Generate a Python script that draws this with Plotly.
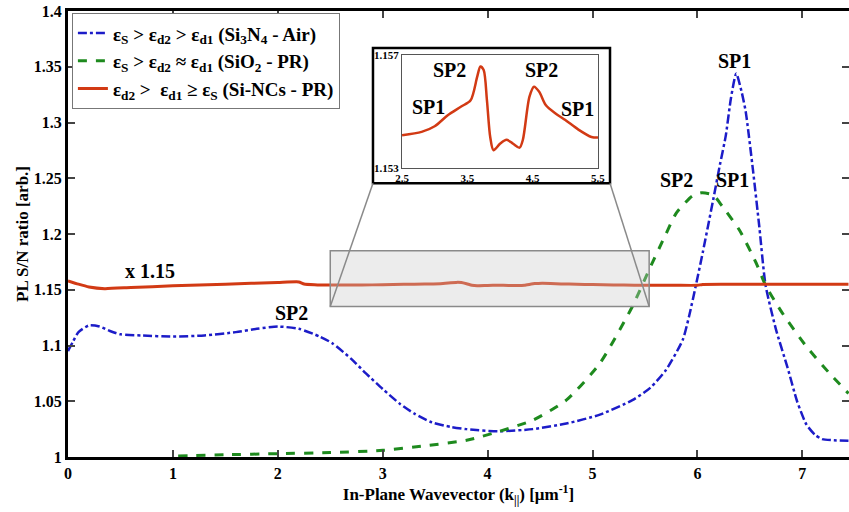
import plotly.graph_objects as go

# ---------------- data ----------------
blue_k = [0.0, 0.05, 0.1, 0.2, 0.3, 0.4, 0.5, 0.7, 1.0, 1.3, 1.6, 1.8, 2.0, 2.2, 2.4, 2.52, 2.7,
          2.84, 3.0, 3.16, 3.3, 3.47, 3.65, 3.8, 4.1, 4.43, 4.75, 5.07, 5.38, 5.55, 5.70, 5.86,
          5.92, 5.99, 6.05, 6.15, 6.21, 6.27, 6.32, 6.37, 6.42, 6.46, 6.53, 6.59, 6.65, 6.75,
          6.86, 6.95, 7.04, 7.12, 7.19, 7.3, 7.44]
blue_v = [1.095, 1.104, 1.112, 1.118, 1.117, 1.113, 1.110, 1.109, 1.108, 1.109, 1.112, 1.115,
          1.117, 1.115, 1.108, 1.102, 1.088, 1.075, 1.061, 1.048, 1.039, 1.031, 1.027, 1.025,
          1.023, 1.025, 1.030, 1.038, 1.051, 1.062, 1.078, 1.105, 1.126, 1.156, 1.183, 1.2305,
          1.26, 1.288, 1.322, 1.344, 1.328, 1.31, 1.257, 1.2065, 1.154, 1.114, 1.080, 1.050,
          1.029, 1.020, 1.016, 1.015, 1.0145]

green_k = [1.05, 1.5, 2.0, 2.5, 3.0, 3.4, 3.8, 4.11, 4.43, 4.75, 5.07, 5.38, 5.54, 5.70, 5.80,
           5.95, 6.04, 6.15, 6.24, 6.40, 6.56, 6.65, 6.81, 7.04, 7.26, 7.44]
green_v = [1.001, 1.002, 1.003, 1.004, 1.006, 1.010, 1.015, 1.023, 1.033, 1.051, 1.084, 1.135,
           1.168, 1.200, 1.219, 1.234, 1.237, 1.235, 1.2245, 1.2036, 1.174, 1.154, 1.129, 1.099,
           1.075, 1.057]

red_k = [0.0, 0.1, 0.2, 0.35, 0.6, 1.0, 1.5, 2.0, 2.2, 2.25, 2.35, 2.5, 2.8, 3.0, 3.2, 3.4, 3.55,
         3.65, 3.7, 3.75, 3.8, 3.85, 3.9, 4.0, 4.1, 4.2, 4.3, 4.35, 4.45, 4.52, 4.6, 4.7, 4.85,
         5.0, 5.2, 5.4, 5.5, 5.8, 6.0, 6.05, 6.5, 7.0, 7.44]
red_v = [1.158, 1.155, 1.1525, 1.151, 1.152, 1.1535, 1.155, 1.1565, 1.157, 1.1552, 1.1545,
         1.15416, 1.15428, 1.15448, 1.15487, 1.15517, 1.1554, 1.15623, 1.1566, 1.15647, 1.1554,
         1.1541, 1.15363, 1.15386, 1.1540, 1.15386, 1.15372, 1.1540, 1.15552, 1.15588, 1.1557,
         1.15523, 1.15493, 1.1547, 1.15436, 1.1541, 1.15408, 1.1540, 1.1540, 1.1548, 1.1549,
         1.1549, 1.1549]

legend_names = [
    "ε<sub>S</sub> > ε<sub>d2</sub> > ε<sub>d1</sub> (Si<sub>3</sub>N<sub>4</sub> - Air)",
    "ε<sub>S</sub> > ε<sub>d2</sub> ≈ ε<sub>d1</sub> (SiO<sub>2</sub> - PR)",
    "ε<sub>d2</sub> >  ε<sub>d1</sub> ≥ ε<sub>S</sub> (Si-NCs - PR)",
]

y_ticks = [1.0, 1.05, 1.1, 1.15, 1.2, 1.25, 1.3, 1.35, 1.4]
y_ticktext = ["1", "1.05", "1.1", "1.15", "1.2", "1.25", "1.3", "1.35", "1.4"]
x_ticks = [0, 1, 2, 3, 4, 5, 6, 7]

inset_x_ticks = [2.5, 3.5, 4.5, 5.5]
inset_y_ticks = [1.153, 1.157]

main_labels = [(6.35, 1.355, "SP1"), (5.80, 1.248, "SP2"), (6.33, 1.248, "SP1"),
               (2.13, 1.129, "SP2"), (0.78, 1.167, "x 1.15")]
inset_labels = [(3.23, 1.15647, "SP2"), (2.9, 1.15517, "SP1"), (4.63, 1.15647, "SP2"),
                (5.19, 1.1551, "SP1")]

# zoom window (data) and inset placement
zoom_x = [2.5, 5.54]
zoom_y = [1.135, 1.185]
XMAX = 7.445
YMIN, YMAX = 1.0, 1.4

# ---------------- figure ----------------
FONT = "Liberation Serif, Times New Roman, serif"
BLUE = "#1c1cc8"
GREEN = "#1e8a1e"
RED = "#d23a14"

fig = go.Figure()
fig.add_trace(go.Scatter(x=blue_k, y=blue_v, mode="lines", name=legend_names[0],
                         line=dict(color=BLUE, width=2.5, dash="dashdot", shape="spline", smoothing=0.6)))
fig.add_trace(go.Scatter(x=green_k, y=green_v, mode="lines", name=legend_names[1],
                         line=dict(color=GREEN, width=3, dash="dash", shape="spline", smoothing=0.6)))
fig.add_trace(go.Scatter(x=red_k, y=red_v, mode="lines", name=legend_names[2],
                         line=dict(color=RED, width=3, shape="spline", smoothing=0.5)))

# inset trace
ik = [k for k in red_k if 2.5 <= k <= 5.5]
iv = [v for k, v in zip(red_k, red_v) if 2.5 <= k <= 5.5]
fig.add_trace(go.Scatter(x=ik, y=iv, mode="lines", xaxis="x2", yaxis="y2", showlegend=False,
                         line=dict(color=RED, width=2.5, shape="spline", smoothing=0.8)))

def px(k):
    return k / XMAX

def py(v):
    return (v - YMIN) / (YMAX - YMIN)

# inset frame (paper coords)
ins_frame = dict(x0=0.3905, x1=0.694, y0=0.614, y1=0.917)
shapes = [
    dict(type="rect", xref="paper", yref="paper", layer="below", fillcolor="white",
         line=dict(color="black", width=2.5), **ins_frame),
    dict(type="rect", xref="x", yref="y", x0=zoom_x[0], x1=zoom_x[1], y0=zoom_y[0], y1=zoom_y[1],
         layer="above", fillcolor="rgba(200,200,200,0.35)", line=dict(color="#8a8a8a", width=1.5)),
    dict(type="line", xref="paper", yref="paper", x0=ins_frame["x0"], y0=ins_frame["y0"],
         x1=px(zoom_x[0]), y1=py(zoom_y[0]), line=dict(color="#8a8a8a", width=1.5)),
    dict(type="line", xref="paper", yref="paper", x0=ins_frame["x1"], y0=ins_frame["y0"],
         x1=px(zoom_x[1]), y1=py(zoom_y[0]), line=dict(color="#8a8a8a", width=1.5)),
]

annotations = []
for x, y, t in main_labels:
    annotations.append(dict(x=x, y=y, xref="x", yref="y", text=t, showarrow=False,
                            font=dict(family=FONT, size=20, color="black", weight="bold")))
for x, y, t in inset_labels:
    annotations.append(dict(x=x, y=y, xref="x2", yref="y2", text=t, showarrow=False,
                            font=dict(family=FONT, size=20, color="black", weight="bold")))

tickfont = dict(family=FONT, size=16, color="black", weight="bold")
fig.update_layout(
    width=849, height=512,
    margin=dict(l=68, r=0, t=11, b=55),
    paper_bgcolor="white", plot_bgcolor="white",
    shapes=shapes, annotations=annotations,
    xaxis=dict(range=[0, XMAX], tickvals=x_ticks, ticks="inside", ticklen=7, tickwidth=2,
               showline=True, linewidth=3, linecolor="black", mirror="ticks", showgrid=False,
               zeroline=False, tickfont=tickfont, automargin=False,
               title=dict(text="In-Plane Wavevector (k<sub>||</sub>) [μm<sup>-1</sup>]", standoff=2,
                          font=dict(family=FONT, size=17, color="black", weight="bold"))),
    yaxis=dict(range=[YMIN, YMAX], tickvals=y_ticks, ticktext=y_ticktext, ticks="inside",
               ticklen=7, tickwidth=2, showline=True, linewidth=3, linecolor="black",
               mirror="ticks", showgrid=False, zeroline=False, tickfont=tickfont, automargin=False,
               title=dict(text="PL S/N ratio [arb.]", standoff=1,
                          font=dict(family=FONT, size=17, color="black", weight="bold"))),
    xaxis2=dict(domain=[0.4277, 0.6786], anchor="y2", range=[2.5, 5.5], tickvals=inset_x_ticks,
                ticktext=["2.5", "3.5", "4.5", "5.5"], ticks="", showline=True, linewidth=1,
                linecolor="#555555", mirror=True, showgrid=False, zeroline=False, automargin=False,
                tickfont=dict(family=FONT, size=11, color="black", weight="bold")),
    yaxis2=dict(domain=[0.648, 0.901], anchor="x2", range=[1.153, 1.157], tickvals=inset_y_ticks,
                ticktext=["1.153", "1.157"], ticks="", showline=True, linewidth=1,
                linecolor="#555555", mirror=True, showgrid=False, zeroline=False, automargin=False,
                tickfont=dict(family=FONT, size=11, color="black", weight="bold")),
    legend=dict(x=0.005, y=0.995, xanchor="left", yanchor="top", bgcolor="white",
                bordercolor="#777777", borderwidth=1, tracegroupgap=0,
                font=dict(family=FONT, size=19, color="black", weight="bold"),
                itemwidth=30),
    showlegend=True,
)

fig.write_html("out.html", config={"displayModeBar": False},
               post_script="document.body.style.margin='0';document.body.style.overflow='hidden';")
